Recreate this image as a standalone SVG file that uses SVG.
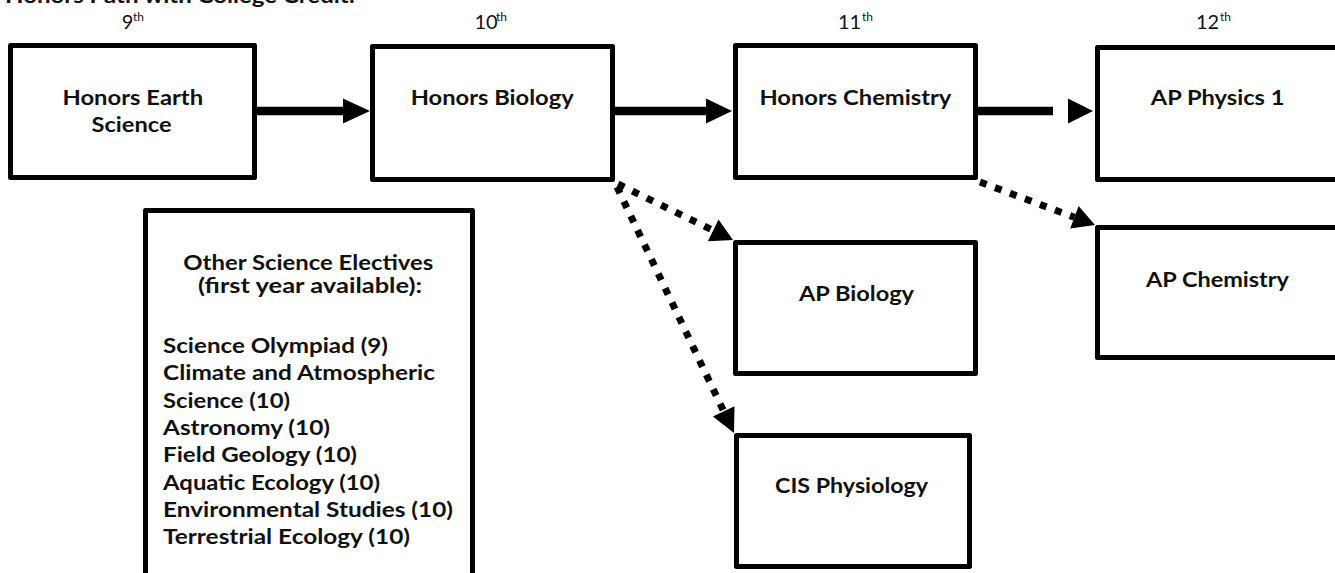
<svg xmlns="http://www.w3.org/2000/svg" width="1335" height="573" viewBox="0 0 1335 573">
<defs>
<style>
.box{fill:#fff;stroke:#000;stroke-width:5;stroke-linejoin:round}
.t{font-family:Lato,"Liberation Sans",sans-serif;font-weight:bold;font-size:20px;fill:#111}
.h{font-family:Lato,"Liberation Sans",sans-serif;font-size:20px;fill:#111}
.sup{font-size:12px}
.solid{stroke:#000;stroke-width:8.5;fill:none}
.dot{stroke:#000;stroke-width:7;fill:none;stroke-dasharray:7 9}
.head{fill:#000;stroke:none}
</style>
</defs>
<rect width="1335" height="573" fill="#fff"/>
<text class="t" x="5" y="3" textLength="350" lengthAdjust="spacingAndGlyphs">Honors Path with College Credit:</text>
<g id="headers">
<text class="h" x="121.7" y="29">9<tspan class="sup" x="133" y="21">th</tspan></text>
<text class="h" x="474.5" y="29">10<tspan class="sup" x="496" y="21">th</tspan></text>
<text class="h" x="838" y="29">11<tspan class="sup" x="862" y="21">th</tspan></text>
<text class="h" x="1196" y="29">12<tspan class="sup" x="1220" y="21">th</tspan></text>
</g>
<g id="connectors">
<line class="solid" x1="257" y1="111" x2="345" y2="111"/>
<polygon class="head" points="343,98.5 370,111 343,123.5"/>
<line class="solid" x1="615" y1="111" x2="708" y2="111"/>
<polygon class="head" points="706,98.5 732,111 706,123.5"/>
<line class="solid" x1="978" y1="111" x2="1053" y2="111"/>
<polygon class="head" points="1068,98.5 1093,111 1068,123.5"/>
<line class="dot" x1="618" y1="184" x2="713" y2="230.4"/>
<polygon class="head" points="733,240 707.9,241.2 718.5,219.6"/>
<line class="dot" x1="617" y1="187" x2="723.7" y2="411.3"/>
<polygon class="head" points="734,433 712.9,416.4 734.5,406.2"/>
<line class="dot" x1="980" y1="182" x2="1074.4" y2="217.3"/>
<polygon class="head" points="1095,225 1070.2,228.5 1078.6,206.1"/>
</g>
<g id="honors-earth-science">
<rect class="box" x="10.5" y="45.5" width="244" height="132"/>
<text class="t" x="62.5" y="105" textLength="140.6" lengthAdjust="spacingAndGlyphs">Honors Earth</text>
<text class="t" x="91.5" y="132" textLength="80" lengthAdjust="spacingAndGlyphs">Science</text>
</g>
<g id="honors-biology">
<rect class="box" x="372.5" y="46.5" width="240" height="133"/>
<text class="t" x="410.7" y="105" textLength="163" lengthAdjust="spacingAndGlyphs">Honors Biology</text>
</g>
<g id="honors-chemistry">
<rect class="box" x="735.5" y="45.5" width="240" height="132"/>
<text class="t" x="759.4" y="105" textLength="192" lengthAdjust="spacingAndGlyphs">Honors Chemistry</text>
</g>
<g id="ap-physics-1">
<rect class="box" x="1097.5" y="47.5" width="245" height="132"/>
<text class="t" x="1150.8" y="105" textLength="133.6" lengthAdjust="spacingAndGlyphs">AP Physics 1</text>
</g>
<g id="other-electives">
<rect class="box" x="145.5" y="210.5" width="327" height="400"/>
<text class="t" x="183.3" y="270" textLength="250" lengthAdjust="spacingAndGlyphs">Other Science Electives</text>
<text class="t" x="198" y="293" textLength="224" lengthAdjust="spacingAndGlyphs">(first year available):</text>
<text class="t" x="163" y="353" textLength="225" lengthAdjust="spacingAndGlyphs">Science Olympiad (9)</text>
<text class="t" x="163" y="380" textLength="272" lengthAdjust="spacingAndGlyphs">Climate and Atmospheric</text>
<text class="t" x="163" y="408" textLength="127" lengthAdjust="spacingAndGlyphs">Science (10)</text>
<text class="t" x="163" y="435" textLength="167" lengthAdjust="spacingAndGlyphs">Astronomy (10)</text>
<text class="t" x="163" y="462" textLength="194" lengthAdjust="spacingAndGlyphs">Field Geology (10)</text>
<text class="t" x="163" y="490" textLength="217" lengthAdjust="spacingAndGlyphs">Aquatic Ecology (10)</text>
<text class="t" x="163" y="517" textLength="290" lengthAdjust="spacingAndGlyphs">Environmental Studies (10)</text>
<text class="t" x="163" y="544" textLength="247" lengthAdjust="spacingAndGlyphs">Terrestrial Ecology (10)</text>
</g>
<g id="ap-biology">
<rect class="box" x="735.5" y="242.5" width="240" height="131"/>
<text class="t" x="799" y="301" textLength="115" lengthAdjust="spacingAndGlyphs">AP Biology</text>
</g>
<g id="ap-chemistry">
<rect class="box" x="1097.5" y="227.5" width="245" height="130"/>
<text class="t" x="1146" y="287" textLength="143" lengthAdjust="spacingAndGlyphs">AP Chemistry</text>
</g>
<g id="cis-physiology">
<rect class="box" x="736.5" y="435.5" width="233" height="131"/>
<text class="t" x="775" y="493" textLength="153" lengthAdjust="spacingAndGlyphs">CIS Physiology</text>
</g>
</svg>
